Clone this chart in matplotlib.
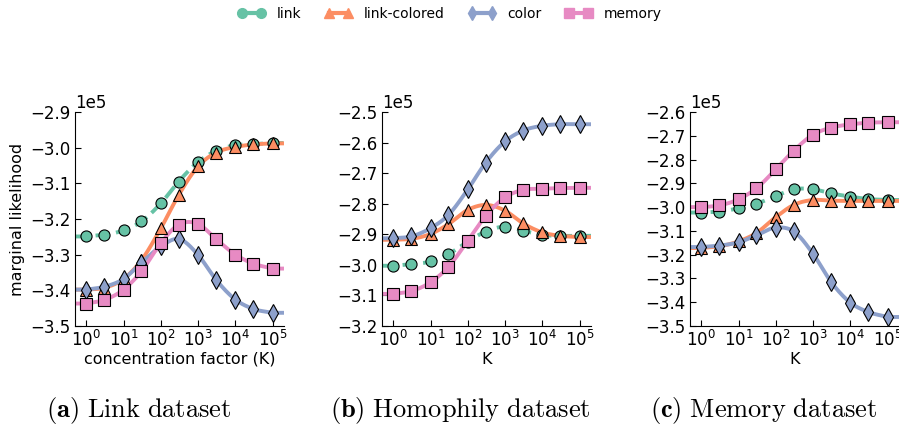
import numpy as np
import matplotlib
matplotlib.use("Agg")
import matplotlib.pyplot as plt
from matplotlib.lines import Line2D

# K values shared by all panels
K = [1, 3, 10, 30, 100, 300, 1000, 3000, 1e4, 3e4, 1e5]

# values in units of 1e5
link_a = [-3.249, -3.244, -3.232, -3.207, -3.156, -3.095, -3.040, -3.009, -2.993, -2.990, -2.987]
linkc_a = [-3.398, -3.393, -3.368, -3.316, -3.226, -3.133, -3.052, -3.014, -2.998, -2.991, -2.988]
color_a = [-3.398, -3.390, -3.368, -3.323, -3.277, -3.256, -3.301, -3.370, -3.426, -3.452, -3.463]
memory_a = [-3.437, -3.427, -3.398, -3.347, -3.267, -3.216, -3.214, -3.256, -3.300, -3.325, -3.339]

link_b = [-3.003, -2.998, -2.989, -2.965, -2.924, -2.891, -2.875, -2.888, -2.902, -2.905, -2.905]
linkc_b = [-2.918, -2.915, -2.899, -2.867, -2.820, -2.804, -2.823, -2.864, -2.894, -2.905, -2.909]
color_b = [-2.913, -2.907, -2.880, -2.837, -2.753, -2.666, -2.596, -2.561, -2.545, -2.540, -2.540]
memory_b = [-3.095, -3.086, -3.057, -3.007, -2.921, -2.840, -2.779, -2.755, -2.751, -2.749, -2.748]

link_c = [-3.023, -3.019, -3.005, -2.986, -2.953, -2.925, -2.925, -2.942, -2.956, -2.966, -2.970]
linkc_c = [-3.172, -3.165, -3.144, -3.109, -3.042, -2.991, -2.970, -2.973, -2.974, -2.974, -2.974]
color_c = [-3.168, -3.162, -3.148, -3.119, -3.086, -3.102, -3.197, -3.314, -3.402, -3.441, -3.462]
memory_c = [-3.000, -2.993, -2.967, -2.921, -2.841, -2.763, -2.695, -2.666, -2.652, -2.645, -2.643]

names = ["link", "link-colored", "color", "memory"]
colors = ["#66c2a5", "#fc8d62", "#8da0cb", "#e78ac3"]
markers = ["o", "^", "d", "s"]
styles = ["--", "-", "-", "-"]
msizes = [8, 8.5, 9, 8]

panels = [
    ([link_a, linkc_a, color_a, memory_a], (-3.5, -2.9), "concentration factor (K)",
     r"$\mathbf{(a)}\ \mathrm{Link\ dataset}$", 139),
    ([link_b, linkc_b, color_b, memory_b], (-3.2, -2.5), "K",
     r"$\mathbf{(b)}\ \mathrm{Homophily\ dataset}$", 460),
    ([link_c, linkc_c, color_c, memory_c], (-3.5, -2.6), "K",
     r"$\mathbf{(c)}\ \mathrm{Memory\ dataset}$", 764),
]
lefts = [75, 382, 690]
XLIM = (0.5, 2e5)


def smooth_line(x, y, n=300):
    # cubic hermite through the points in log-x, flat beyond the ends
    lx = np.log10(np.asarray(x, float))
    y = np.asarray(y, float)
    m = np.gradient(y, lx)
    xs = np.linspace(lx[0], lx[-1], n)
    i = np.clip(np.searchsorted(lx, xs) - 1, 0, len(lx) - 2)
    h = lx[i + 1] - lx[i]
    t = (xs - lx[i]) / h
    h00 = 2 * t**3 - 3 * t**2 + 1
    h10 = t**3 - 2 * t**2 + t
    h01 = -2 * t**3 + 3 * t**2
    h11 = t**3 - t**2
    ys = h00 * y[i] + h10 * h * m[i] + h01 * y[i + 1] + h11 * h * m[i + 1]
    xs = np.concatenate([[np.log10(XLIM[0])], xs, [np.log10(XLIM[1])]])
    ys = np.concatenate([[ys[0]], ys, [ys[-1]]])
    return 10**xs, ys


fig = plt.figure(figsize=(8.99, 4.30), dpi=100)

for p, (series, ylim, xlabel, caption, cx) in enumerate(panels):
    ax = fig.add_axes([lefts[p] / 899, 104 / 430, 209 / 899, 214 / 430])
    for j, vals in enumerate(series):
        yv = np.array(vals) * 1e5
        xs, ys = smooth_line(K, yv)
        ax.plot(xs, ys, color=colors[j], ls=styles[j], lw=2.8, zorder=2 + j * 0.1,
                solid_capstyle="butt")
        ax.plot(K, yv, ls="none", marker=markers[j], ms=msizes[j], mfc=colors[j],
                mec="black", mew=0.8, zorder=3 + j * 0.1)
    ax.set_xscale("log")
    ax.set_xlim(*XLIM)
    ax.set_ylim(ylim[0] * 1e5, ylim[1] * 1e5)
    ax.set_yticks(np.arange(ylim[0], ylim[1] + 0.001, 0.1) * 1e5)
    ax.set_xticks([1, 10, 100, 1e3, 1e4, 1e5])
    ax.ticklabel_format(axis="y", style="sci", scilimits=(0, 0))
    ax.spines["top"].set_visible(False)
    ax.spines["right"].set_visible(False)
    ax.tick_params(which="both", direction="in", top=False, right=False, labelsize=12)
    ax.tick_params(which="major", length=4, pad=3)
    ax.tick_params(which="minor", length=2)
    ax.yaxis.get_offset_text().set_fontsize(12)
    ax.set_xlabel(xlabel, fontsize=11.5, labelpad=1)
    if p == 0:
        ax.set_ylabel("marginal likelihood", fontsize=11.5)
    fig.text(cx / 899, 1 - 411 / 430, caption, ha="center", va="center",
             fontsize=19, math_fontfamily="cm")

handles = [Line2D([], [], color=colors[j], ls=styles[j], lw=3, marker=markers[j],
                  ms=7, mec=colors[j]) for j in range(4)]
fig.legend(handles, names, loc="center", bbox_to_anchor=(0.5, 1 - 14 / 430), ncol=4,
           frameon=False, numpoints=2, fontsize=10, handlelength=2.0,
           handletextpad=0.8, columnspacing=1.7)

fig.savefig("out.png", dpi=100)
